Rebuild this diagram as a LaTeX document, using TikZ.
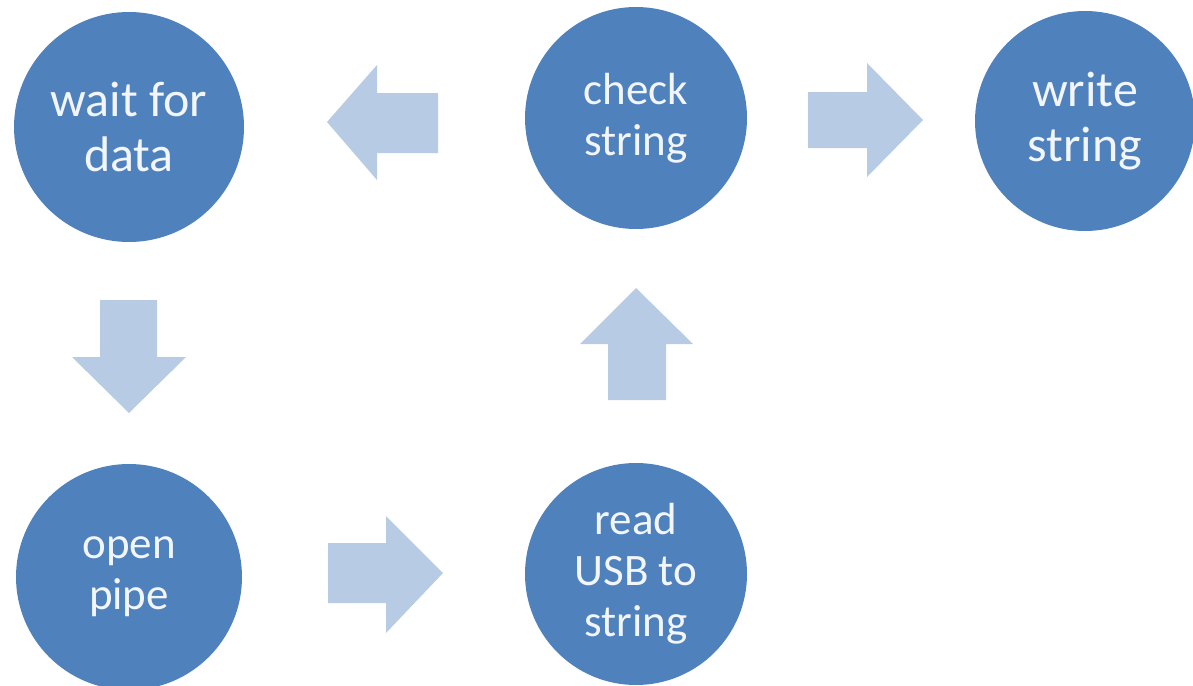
\documentclass[tikz,border=0pt]{standalone}
\usepackage{fontspec}
\setmainfont{Carlito}
\definecolor{circblue}{HTML}{4F81BD}
\definecolor{arrblue}{HTML}{B7CBE4}
\definecolor{txtwhite}{HTML}{F2F6FB}
\begin{document}
\begin{tikzpicture}[x=1pt,y=-1pt,
  stepnode/.style={circle,fill=circblue,draw=none,minimum size=#1,inner sep=0pt,
    text=txtwhite,align=center,font=\fontsize{45}{51}\selectfont},
  bigtext/.style={font=\fontsize{50}{55}\selectfont},
  blockarrow/.style={fill=arrblue,draw=none}]
\useasboundingbox (0,0) rectangle (1193,685);
\node[stepnode=230,bigtext] (wait) at (129,127) {wait for\\data};
\node[stepnode=222] (check) at (636,118) {check\\string};
\node[stepnode=220,bigtext] (write) at (1085,121) {write\\string};
\node[stepnode=226] (open) at (129,577) {open\\pipe};
\node[stepnode=222] (read) at (636,574) {read\\USB to\\string};
% left arrow (check -> wait)
\fill[blockarrow] (438,93) -- (377,93) -- (377,65) -- (327,122) -- (377,180) -- (377,153) -- (438,153) -- cycle;
% right arrow (check -> write)
\fill[blockarrow] (808,92) -- (867,92) -- (867,63) -- (923,120) -- (867,177) -- (867,148) -- (808,148) -- cycle;
% down arrow (wait -> open)
\fill[blockarrow] (100,300) -- (157,300) -- (157,357) -- (186,357) -- (129,413) -- (72,357) -- (100,357) -- cycle;
% up arrow (read -> check)
\fill[blockarrow] (608,400) -- (666,400) -- (666,344) -- (693,344) -- (636,288) -- (580,344) -- (608,344) -- cycle;
% right arrow (open -> read)
\fill[blockarrow] (328,543) -- (386,543) -- (386,516) -- (443,573) -- (386,633) -- (386,603) -- (328,603) -- cycle;
\end{tikzpicture}
\end{document}
